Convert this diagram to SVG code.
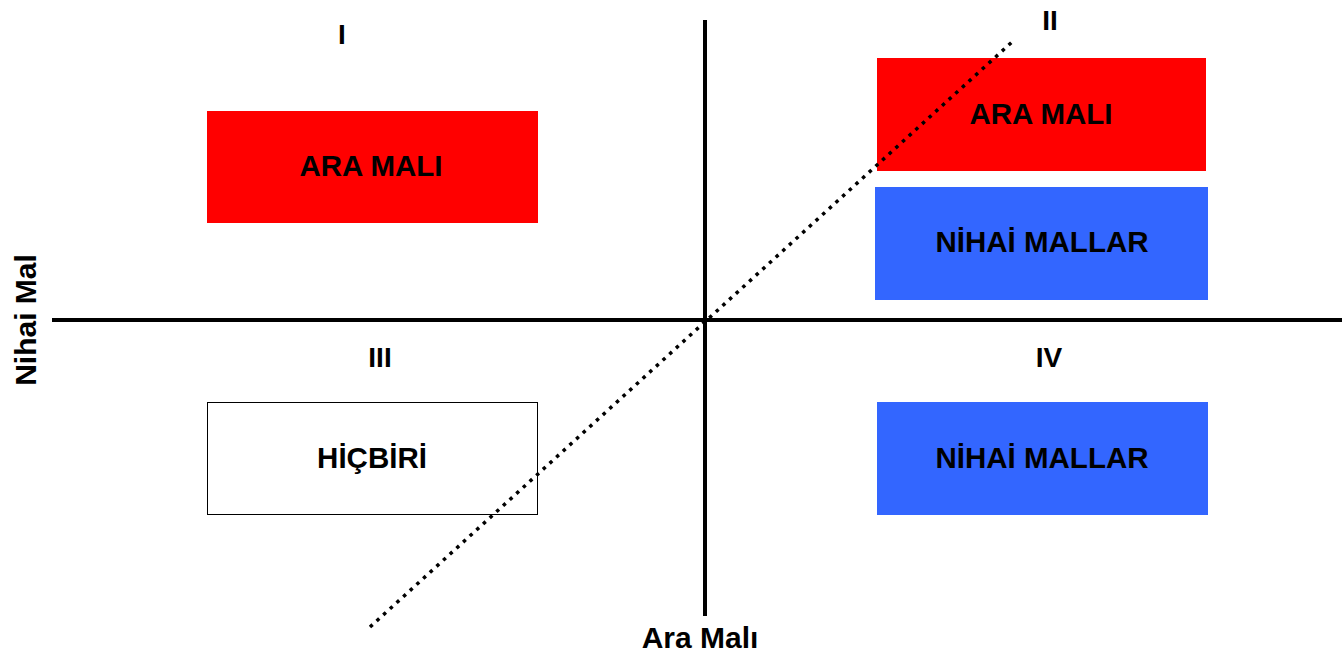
<svg xmlns="http://www.w3.org/2000/svg" width="1342" height="657" viewBox="0 0 1342 657">
<style>
.t{font-family:"Liberation Sans",Arial,sans-serif;font-weight:bold;fill:#000;text-anchor:middle}
.bx{font-size:29.5px}
.q{font-size:28px}
.ax{stroke:#000;stroke-width:4;fill:none}
</style>
<rect width="1342" height="657" fill="#fff"/>
<g id="axes">
<line class="ax" x1="52" y1="320" x2="1342" y2="320"/>
<line class="ax" x1="705" y1="20" x2="705" y2="616"/>
</g>
<g id="node-I-aramali"><rect x="207" y="111" width="331" height="112" fill="#ff0000"/><text class="t bx" x="371" y="176">ARA MALI</text></g>
<g id="node-II-aramali"><rect x="877" y="58" width="329" height="113" fill="#ff0000"/><text class="t bx" x="1041" y="124">ARA MALI</text></g>
<g id="node-II-nihai"><rect x="875" y="187" width="333" height="113" fill="#3366ff"/><text class="t bx" x="1042" y="252">NİHAİ MALLAR</text></g>
<g id="node-III-hicbiri"><rect x="207.5" y="402.5" width="330" height="112" fill="#fff" stroke="#000" stroke-width="1"/><text class="t bx" x="372" y="468">HİÇBİRİ</text></g>
<g id="node-IV-nihai"><rect x="877" y="402" width="331" height="113" fill="#3366ff"/><text class="t bx" x="1042" y="468">NİHAİ MALLAR</text></g>
<g id="labels">
<text class="t q" x="342" y="44">I</text>
<text class="t q" x="1050" y="30">II</text>
<text class="t q" x="380" y="367">III</text>
<text class="t q" x="1049" y="367">IV</text>
<text class="t" style="font-size:30px" x="700" y="648">Ara Malı</text>
<text class="t" style="font-size:30px" transform="translate(36,320) rotate(-90)" x="0" y="0">Nihai Mal</text>
</g>
<g id="connectors">
<line x1="370" y1="627" x2="1012" y2="42" stroke="#000" stroke-width="3.5" stroke-dasharray="3.5 5.5"/>
</g>
</svg>
